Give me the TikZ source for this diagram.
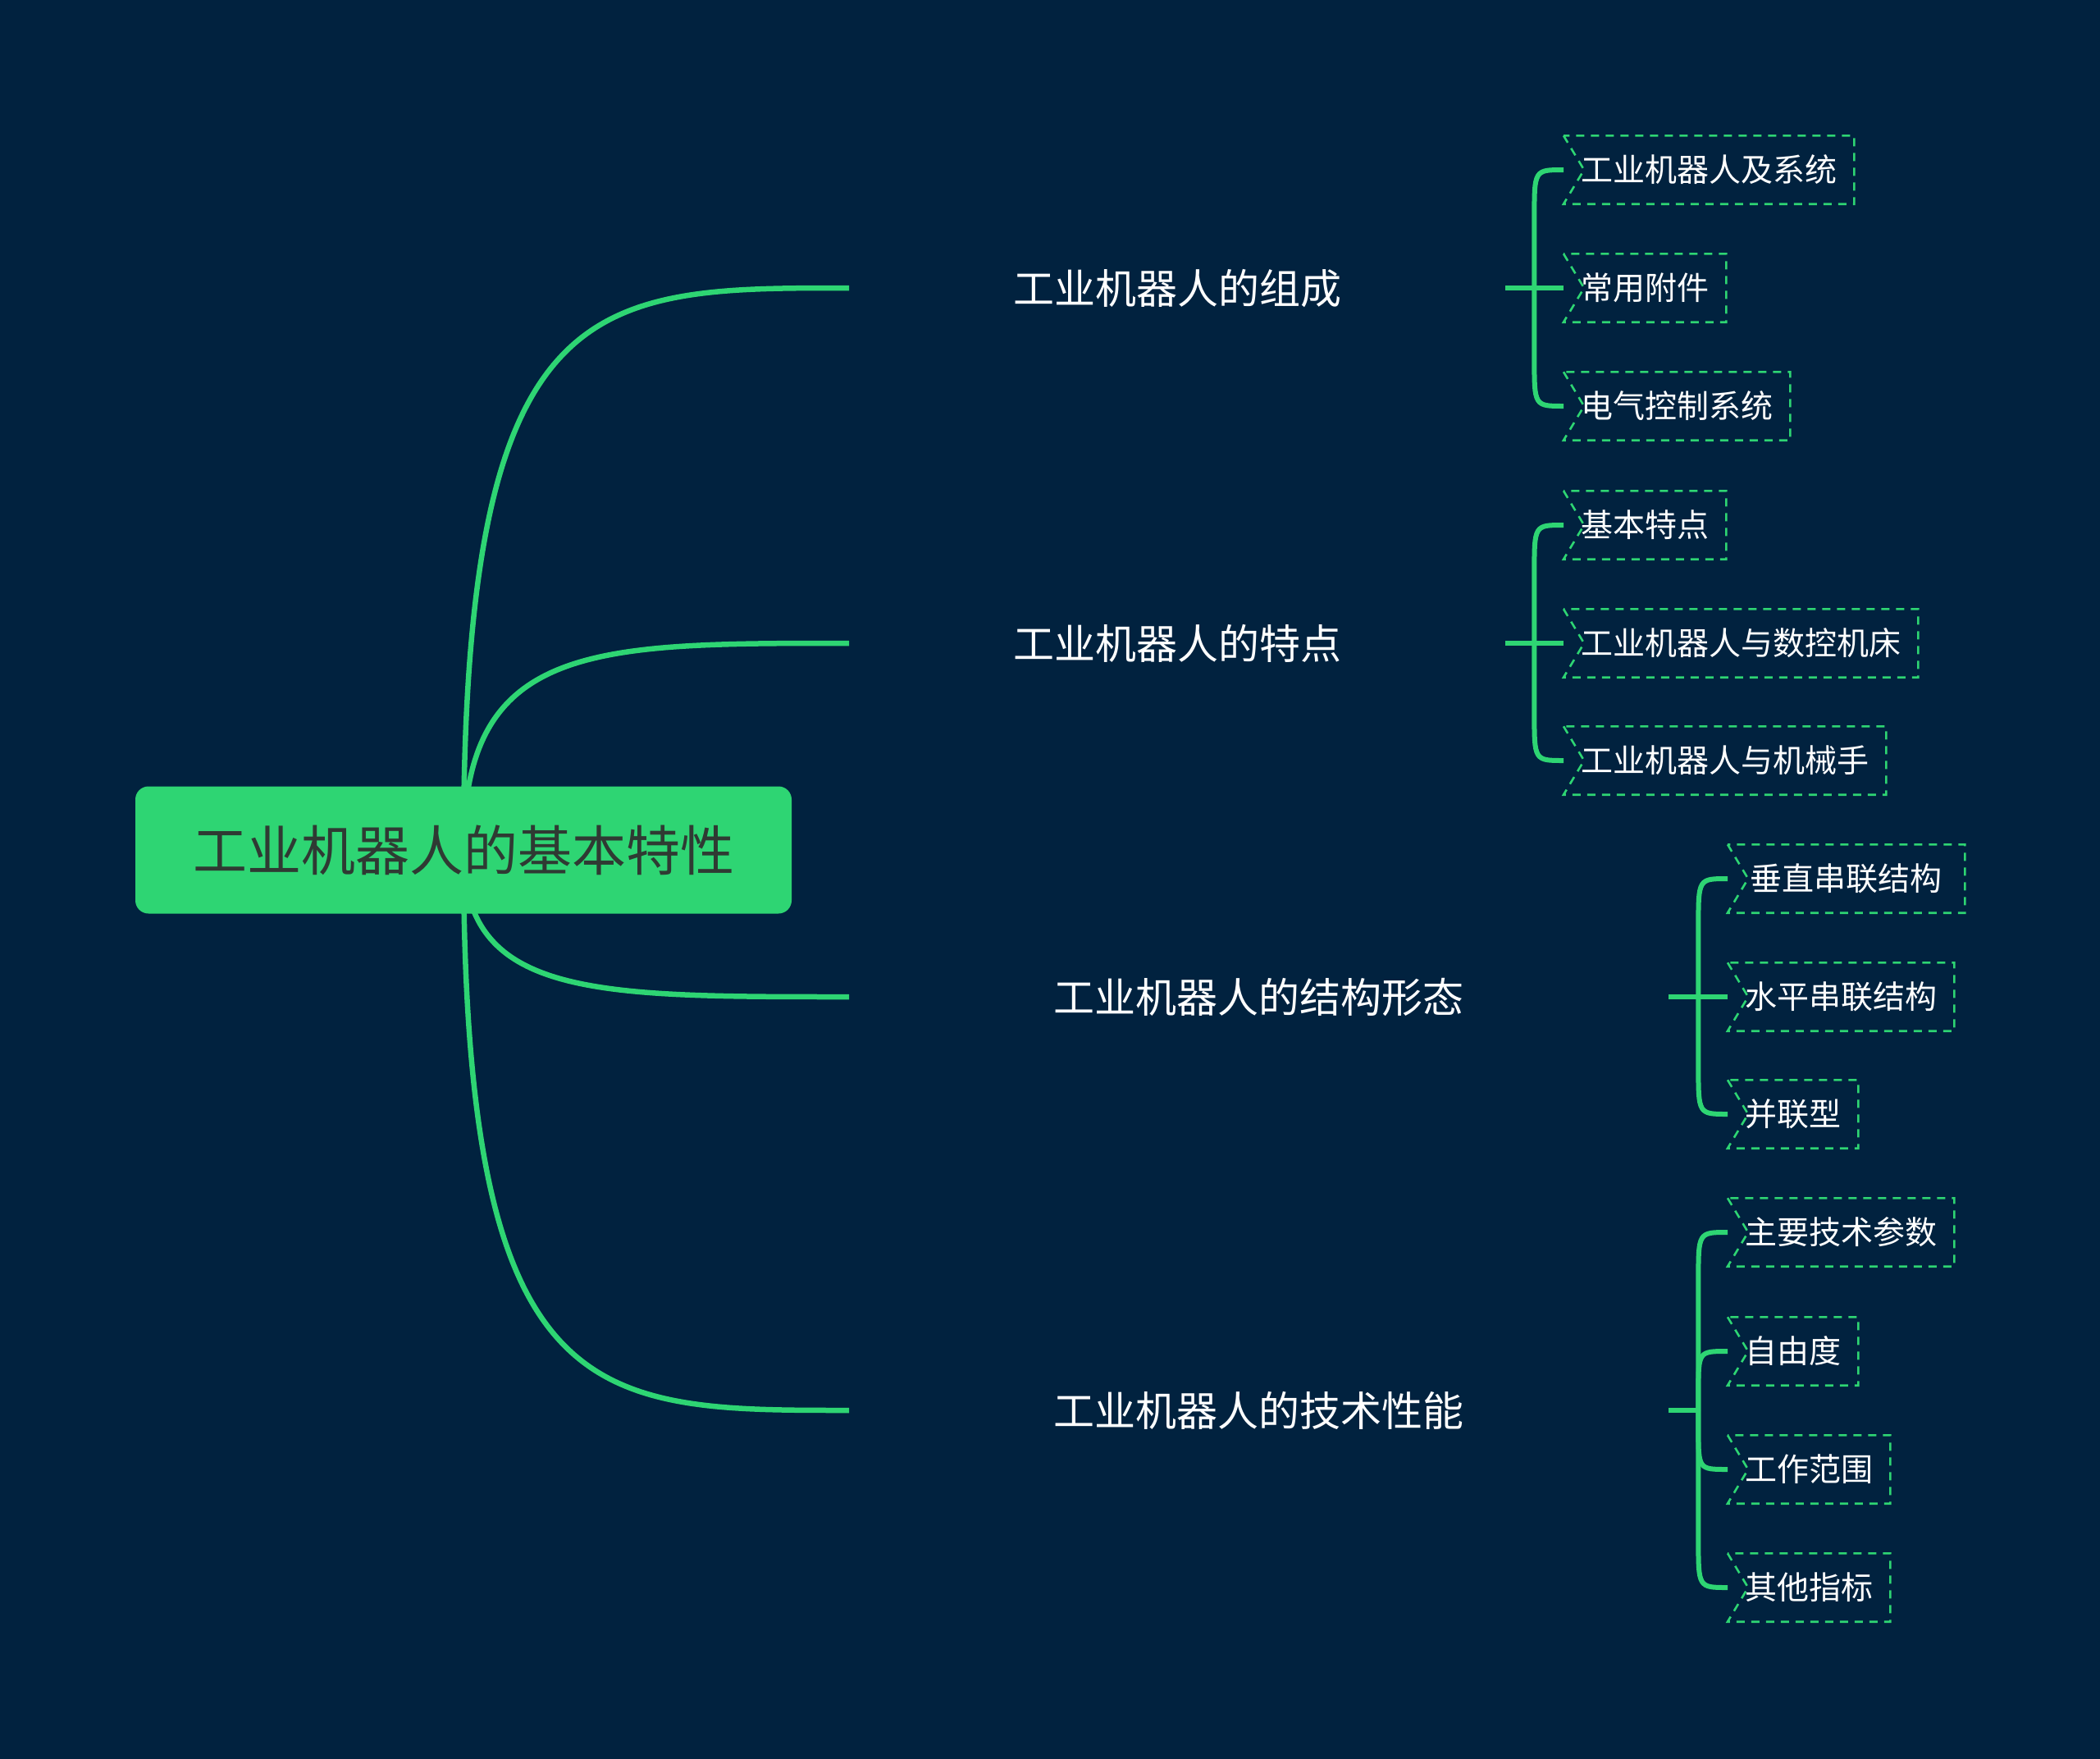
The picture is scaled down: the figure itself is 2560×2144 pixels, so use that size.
\documentclass[tikz,border=0pt]{standalone}
\usepackage{fontspec}
\newfontfamily\cjk{Noto Sans CJK SC}
\usetikzlibrary{calc}
\definecolor{bg}{HTML}{01223F}
\definecolor{mint}{HTML}{2ED573}
\definecolor{roottext}{HTML}{2F3A33}
\pgfdeclarelayer{back}
\pgfsetlayers{back,main}
\begin{document}
\begin{tikzpicture}[x=1pt,y=-1pt,
  rootbox/.style={fill=mint, rounded corners=16pt, minimum width=800pt, minimum height=155pt,
    inner sep=0pt, text height=58pt, text depth=8pt, text=roottext, font=\cjk\fontsize{66}{70}\selectfont},
  branchlbl/.style={anchor=west, inner sep=0pt, minimum height=70pt, text height=44pt, text depth=6pt,
    text=white, font=\cjk\fontsize{50}{60}\selectfont},
  leaflbl/.style={anchor=west, inner xsep=21pt, inner ysep=0pt, minimum height=83pt,
    text height=34pt, text depth=5pt, text=white, font=\cjk\fontsize{39}{45}\selectfont},
  leafedge/.style={draw=mint, line width=2.6pt, dash pattern=on 10pt off 8pt},
  mainline/.style={draw=mint, line width=6.5pt},
  brace/.style={draw=mint, line width=6pt},
]
\begin{pgfonlayer}{back}
\fill[bg] (0,0) rectangle (2560,2144);
\end{pgfonlayer}
\useasboundingbox (0,0) rectangle (2560,2144);

% root
\node[rootbox] (root) at (565,1036) {工业机器人的基本特性};

% branches
\node[branchlbl, minimum width=800pt] (b1) at (1035,351) {工业机器人的组成};
\node[branchlbl, minimum width=800pt] (b2) at (1035,784) {工业机器人的特点};
\node[branchlbl, minimum width=999pt] (b3) at (1035,1215) {工业机器人的结构形态};
\node[branchlbl, minimum width=999pt] (b4) at (1035,1719) {工业机器人的技术性能};

% leaves
\node[leaflbl] (l11) at (1906,207) {工业机器人及系统};
\node[leaflbl] (l12) at (1906,351) {常用附件};
\node[leaflbl] (l13) at (1906,495) {电气控制系统};
\node[leaflbl] (l21) at (1906,640) {基本特点};
\node[leaflbl] (l22) at (1906,784) {工业机器人与数控机床};
\node[leaflbl] (l23) at (1906,927) {工业机器人与机械手};
\node[leaflbl, minimum width=289pt] (l31) at (2106,1071) {垂直串联结构};
\node[leaflbl] (l32) at (2106,1215) {水平串联结构};
\node[leaflbl] (l33) at (2106,1358) {并联型};
\node[leaflbl] (l41) at (2106,1502) {主要技术参数};
\node[leaflbl] (l42) at (2106,1647) {自由度};
\node[leaflbl] (l43) at (2106,1791) {工作范围};
\node[leaflbl] (l44) at (2106,1935) {其他指标};

% dashed leaf borders with notch
\foreach \n in {l11,l12,l13,l21,l22,l23,l31,l32,l33,l41,l42,l43,l44}{
  \draw[leafedge] (\n.north west) -- ([xshift=25pt]\n.west) -- (\n.south west)
    -- (\n.south east) -- (\n.north east) -- cycle;
}

% main curves
\begin{pgfonlayer}{back}
\draw[mainline] (root.center) .. controls (565,351) and (720,351) .. (b1.west);
\draw[mainline] (root.center) .. controls (565,784) and (720,784) .. (b2.west);
\draw[mainline] (root.center) .. controls (565,1215) and (720,1215) .. (b3.west);
\draw[mainline] (root.center) .. controls (565,1719) and (720,1719) .. (b4.west);
\end{pgfonlayer}

% junctions
\coordinate (j1) at ([xshift=35pt]b1.east);
\coordinate (j2) at ([xshift=35pt]b2.east);
\coordinate (j3) at ([xshift=36pt]b3.east);
\coordinate (j4) at ([xshift=36pt]b4.east);

% group 1
\draw[brace] (b1.east) -- (l12.west);
\draw[brace] (j1) -- ($(j1 |- l11.west)+(0,58)$) .. controls (j1 |- l11.west) .. (l11.west);
\draw[brace] (j1) -- ($(j1 |- l13.west)+(0,-58)$) .. controls (j1 |- l13.west) .. (l13.west);
% group 2
\draw[brace] (b2.east) -- (l22.west);
\draw[brace] (j2) -- ($(j2 |- l21.west)+(0,58)$) .. controls (j2 |- l21.west) .. (l21.west);
\draw[brace] (j2) -- ($(j2 |- l23.west)+(0,-58)$) .. controls (j2 |- l23.west) .. (l23.west);
% group 3
\draw[brace] (b3.east) -- (l32.west);
\draw[brace] (j3) -- ($(j3 |- l31.west)+(0,58)$) .. controls (j3 |- l31.west) .. (l31.west);
\draw[brace] (j3) -- ($(j3 |- l33.west)+(0,-58)$) .. controls (j3 |- l33.west) .. (l33.west);
% group 4
\draw[brace] (b4.east) -- (j4);
\draw[brace] (j4) -- ($(j4 |- l41.west)+(0,58)$) .. controls (j4 |- l41.west) .. (l41.west);
\draw[brace] (j4) -- ($(j4 |- l42.west)+(0,50)$) .. controls (j4 |- l42.west) .. (l42.west);
\draw[brace] (j4) -- ($(j4 |- l43.west)+(0,-50)$) .. controls (j4 |- l43.west) .. (l43.west);
\draw[brace] (j4) -- ($(j4 |- l44.west)+(0,-58)$) .. controls (j4 |- l44.west) .. (l44.west);
\end{tikzpicture}
\end{document}
